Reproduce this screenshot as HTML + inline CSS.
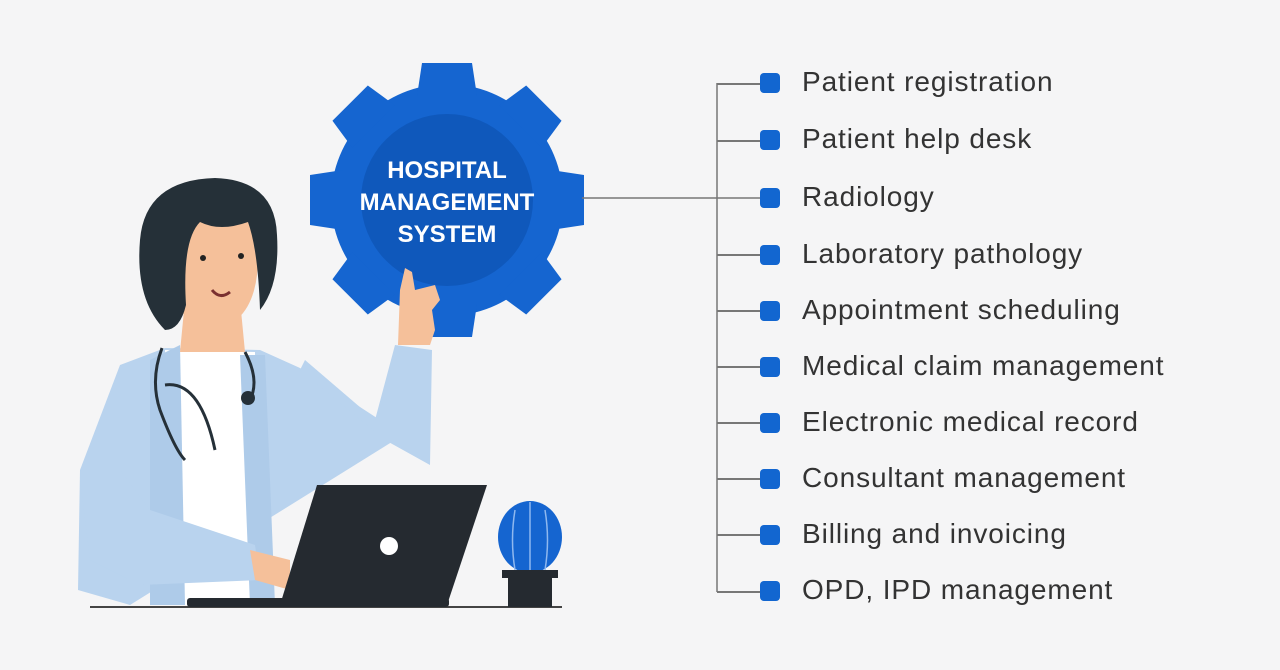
<!DOCTYPE html>
<html><head><meta charset="utf-8"><style>
html,body{margin:0;padding:0;background:#f5f5f6;}
body{width:1280px;height:670px;position:relative;overflow:hidden;font-family:"Liberation Sans",sans-serif;}
.row{position:absolute;left:760px;height:20px;}
.sq{position:absolute;left:0;top:0;width:20px;height:20px;border-radius:4px;background:#1266d0;}
.lbl{position:absolute;left:42px;top:-7px;font-size:28px;color:#333;white-space:nowrap;letter-spacing:0.9px;}
.ln{position:absolute;left:717px;width:43px;height:1.5px;background:#777;}
</style></head><body>
<svg width="1280" height="670" style="position:absolute;left:0;top:0">
  <g transform="translate(447,200)" fill="#1565d0">
    <circle r="116"/>
    <g id="t"><polygon points="-30,-104 30,-104 25,-137 -25,-137"/></g>
    <use href="#t" transform="rotate(45)"/><use href="#t" transform="rotate(90)"/>
    <use href="#t" transform="rotate(135)"/><use href="#t" transform="rotate(180)"/>
    <use href="#t" transform="rotate(225)"/><use href="#t" transform="rotate(270)"/>
    <use href="#t" transform="rotate(315)"/>
    <circle r="86" fill="#0f58bb"/>
    <text y="-22" text-anchor="middle" fill="#fff" font-size="24" font-weight="bold" font-family="Liberation Sans, sans-serif">HOSPITAL</text>
    <text y="10" text-anchor="middle" fill="#fff" font-size="24" font-weight="bold" font-family="Liberation Sans, sans-serif">MANAGEMENT</text>
    <text y="42" text-anchor="middle" fill="#fff" font-size="24" font-weight="bold" font-family="Liberation Sans, sans-serif">SYSTEM</text>
  </g>
  <line x1="582" y1="198" x2="760" y2="198" stroke="#777" stroke-width="1.5"/>
  <line x1="717" y1="83" x2="717" y2="592" stroke="#777" stroke-width="1.5"/>
  <line x1="90" y1="607" x2="562" y2="607" stroke="#444" stroke-width="2"/>
  <path d="M120,365 L165,348 L260,350 L300,368 L380,420 L395,440 L130,605 L78,590 L80,470 Z" fill="#b9d3ee"/>
  <path d="M165,350 L255,352 L260,605 L180,605 Z" fill="#ffffff"/>
  <path d="M150,360 L180,345 L185,605 L150,605 Z" fill="#aecbe9"/>
  <path d="M240,355 L265,355 L275,605 L250,605 Z" fill="#aecbe9"/>
  <path d="M300,370 L385,440 L430,465 L432,350 L395,345 L375,420 L305,360 Z" fill="#b9d3ee"/>
  <path d="M398,345 L400,290 L405,268 L412,272 L415,290 L435,285 L440,300 L432,310 L435,330 L430,345 Z" fill="#f5c09a"/>
  <path d="M80,480 L120,470 L150,510 L255,545 L260,580 L140,585 L90,560 Z" fill="#b9d3ee"/>
  <path d="M250,550 L290,560 L290,590 L255,580 Z" fill="#f5c09a"/>
  <path d="M185,300 L240,300 L245,352 L180,352 Z" fill="#f5c09a"/>
  <path d="M175,225 Q178,205 215,205 Q255,210 258,250 Q260,320 215,330 Q180,328 175,290 Z" fill="#f5c09a"/>
  <path d="M165,330 Q135,300 140,240 Q145,180 215,178 Q275,180 277,235 Q280,285 260,310 Q258,250 248,222 Q220,232 200,222 Q182,240 186,305 Q180,330 165,330 Z" fill="#253038"/>
  <circle cx="203" cy="258" r="3" fill="#222"/><circle cx="241" cy="256" r="3" fill="#222"/>
  <path d="M212,290 Q220,300 230,292" stroke="#7a3030" stroke-width="3" fill="none"/>
  <path d="M162,348 Q150,380 160,410 Q175,450 185,460 M245,352 Q260,380 250,400 M165,385 Q200,380 215,450" stroke="#253038" stroke-width="3" fill="none"/>
  <circle cx="248" cy="398" r="7" fill="#253038"/>
  <polygon points="317,485 487,485 447,605 280,605" fill="#252a30"/>
  <rect x="187" y="598" width="262" height="9" rx="3" fill="#252a30"/>
  <circle cx="389" cy="546" r="9" fill="#fff"/>
  <ellipse cx="530" cy="537" rx="32" ry="36" fill="#1565d0"/>
  <path d="M515,510 Q510,540 515,570 M530,502 L530,570 M545,510 Q550,540 545,570" stroke="#8fb8ef" stroke-width="1.5" fill="none"/>
  <rect x="502" y="570" width="56" height="8" fill="#252a30"/>
  <rect x="508" y="576" width="44" height="31" fill="#252a30"/>
</svg>
<div class="ln" style="top:83px"></div>
<div class="ln" style="top:140px"></div>
<div class="ln" style="top:254px"></div>
<div class="ln" style="top:310px"></div>
<div class="ln" style="top:366px"></div>
<div class="ln" style="top:422px"></div>
<div class="ln" style="top:478px"></div>
<div class="ln" style="top:534px"></div>
<div class="ln" style="top:591px"></div>
<div class="row" style="top:73px"><div class="sq"></div><div class="lbl">Patient registration</div></div>
<div class="row" style="top:130px"><div class="sq"></div><div class="lbl">Patient help desk</div></div>
<div class="row" style="top:188px"><div class="sq"></div><div class="lbl">Radiology</div></div>
<div class="row" style="top:245px"><div class="sq"></div><div class="lbl">Laboratory pathology</div></div>
<div class="row" style="top:301px"><div class="sq"></div><div class="lbl">Appointment scheduling</div></div>
<div class="row" style="top:357px"><div class="sq"></div><div class="lbl">Medical claim management</div></div>
<div class="row" style="top:413px"><div class="sq"></div><div class="lbl">Electronic medical record</div></div>
<div class="row" style="top:469px"><div class="sq"></div><div class="lbl">Consultant management</div></div>
<div class="row" style="top:525px"><div class="sq"></div><div class="lbl">Billing and invoicing</div></div>
<div class="row" style="top:581px"><div class="sq"></div><div class="lbl">OPD, IPD management</div></div>
</body></html>
